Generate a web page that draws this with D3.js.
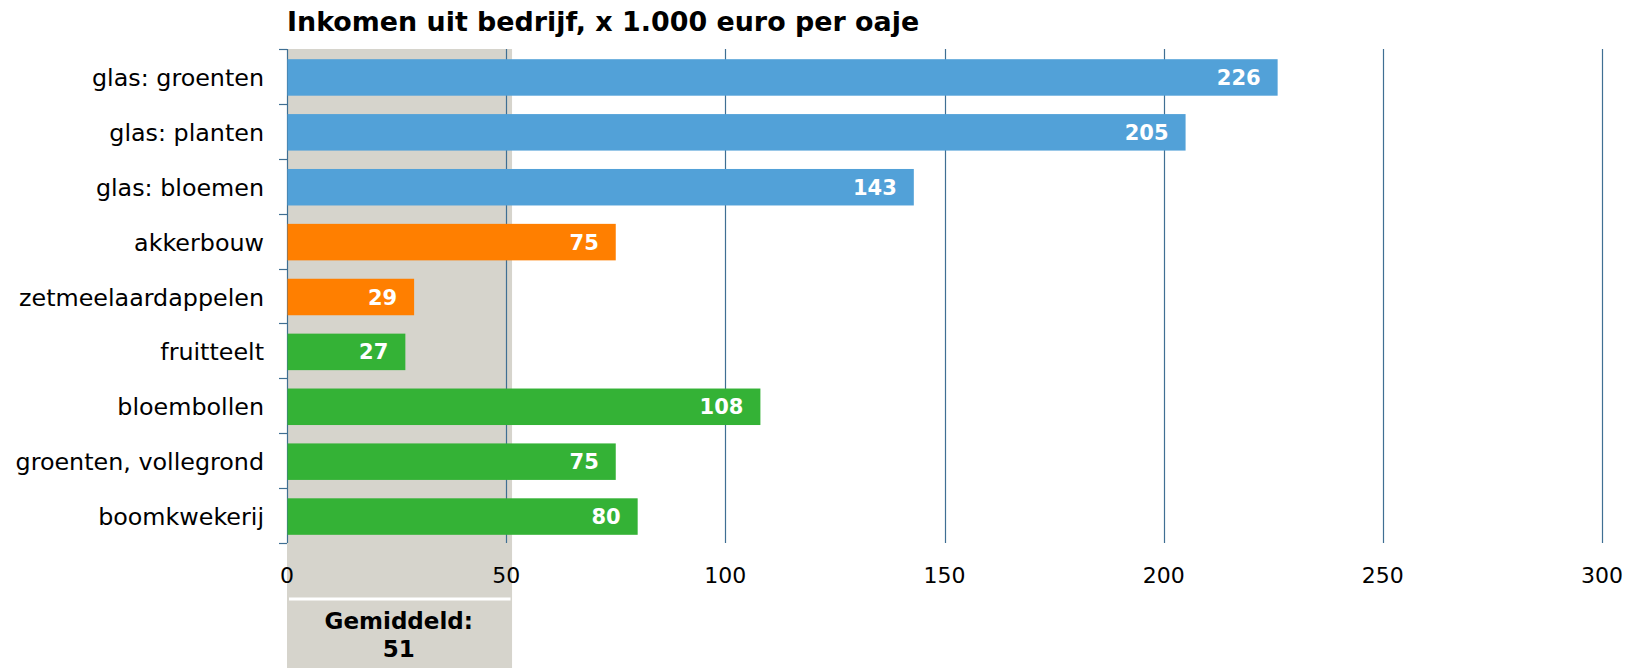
<!DOCTYPE html>
<meta charset="utf-8">
<style>
  body { margin: 0; background: #fff; }
  text { font-family: "DejaVu Sans", Verdana, sans-serif; }
</style>
<svg width="1636" height="668"></svg>
<script src="https://d3js.org/d3.v7.min.js"></script>
<script>

    // data
    var categories = ['glas: groenten', 'glas: planten', 'glas: bloemen', 'akkerbouw',
        'zetmeelaardappelen', 'fruitteelt', 'bloembollen', 'groenten, vollegrond', 'boomkwekerij']
    var values = [226, 205, 143, 75, 29, 27, 108, 75, 80]
    var groups = ['glas', 'glas', 'glas', 'akker', 'akker', 'open', 'open', 'open', 'open']
    var ticks = [0, 50, 100, 150, 200, 250, 300]
    var average = 51
    var title = 'Inkomen uit bedrijf, x 1.000 euro per oaje'

    var colors = { glas: '#52a1d8', akker: '#ff7f00', open: '#34b236' }
    var lineColor = '#3f6f93'

    var svg = d3.select('svg')
    var width = 1636, height = 668
    // note: "top" is taken by window.top, so plot* names
    var plotLeft = 287, plotRight = 1602, plotTop = 49, plotBottom = 543

    var data = categories.map(function (c, i) {
        return { name: c, value: values[i], group: groups[i] }
    })

    var x = d3.scaleLinear().domain([0, 300]).range([plotLeft, plotRight])
    var y = d3.scaleBand().domain(categories).range([plotTop + 1, plotBottom + 1])
        .paddingInner(0.335).paddingOuter(0.1675)

    // grey band for the average
    svg.append('rect')
        .attr('x', x(0)).attr('y', plotTop)
        .attr('width', x(average) - x(0) + 1.5).attr('height', height - plotTop)
        .attr('fill', '#d6d4cc')

    svg.append('line')
        .attr('x1', x(0) + 2).attr('x2', x(average))
        .attr('y1', 599).attr('y2', 599)
        .attr('stroke', '#fff').attr('stroke-width', 3)

    // vertical grid
    svg.append('g')
        .selectAll('line')
        .data(ticks)
        .enter().append('line')
        .attr('x1', function (d) { return Math.round(x(d)) + 0.5 })
        .attr('x2', function (d) { return Math.round(x(d)) + 0.5 })
        .attr('y1', plotTop).attr('y2', plotBottom)
        .attr('stroke', lineColor).attr('stroke-width', 1.2)

    // ticks on the category axis (band boundaries)
    var bounds = d3.range(categories.length + 1).map(function (i) {
        return plotTop + i * y.step()
    })
    svg.append('g')
        .selectAll('line')
        .data(bounds)
        .enter().append('line')
        .attr('x1', x(0) - 8).attr('x2', x(0))
        .attr('y1', function (d) { return Math.round(d) + 0.5 })
        .attr('y2', function (d) { return Math.round(d) + 0.5 })
        .attr('stroke', lineColor).attr('stroke-width', 1.2)

    // bars
    svg.append('g')
        .selectAll('rect')
        .data(data)
        .enter().append('rect')
        .attr('x', x(0) + 0.5)
        .attr('y', function (d) { return y(d.name) })
        .attr('width', function (d) { return x(d.value) - x(0) - 0.5 })
        .attr('height', y.bandwidth())
        .attr('fill', function (d) { return colors[d.group] })

    // values inside bars
    svg.append('g')
        .selectAll('text')
        .data(data)
        .enter().append('text')
        .attr('x', function (d) { return x(d.value) - 17 })
        .attr('y', function (d) { return y(d.name) + y.bandwidth() / 2 })
        .attr('dy', '0.36em')
        .attr('text-anchor', 'end')
        .attr('fill', '#fff')
        .attr('font-weight', 'bold')
        .attr('font-size', 21)
        .text(function (d) { return d.value })

    // category labels
    svg.append('g')
        .selectAll('text')
        .data(data)
        .enter().append('text')
        .attr('x', x(0) - 23)
        .attr('y', function (d) { return y(d.name) + y.bandwidth() / 2 })
        .attr('dy', '0.36em')
        .attr('text-anchor', 'end')
        .attr('fill', '#000')
        .attr('font-size', 23.8)
        .text(function (d) { return d.name })

    // x tick labels
    svg.append('g')
        .selectAll('text')
        .data(ticks)
        .enter().append('text')
        .attr('x', function (d) { return x(d) })
        .attr('y', 583)
        .attr('text-anchor', 'middle')
        .attr('fill', '#000')
        .attr('font-size', 22)
        .text(function (d) { return d })

    // title
    svg.append('text')
        .attr('x', plotLeft).attr('y', 31)
        .attr('font-weight', 'bold')
        .attr('font-size', 26.9)
        .attr('fill', '#000')
        .text(title)

    // average label
    var cx = (x(0) + x(average)) / 2
    svg.append('text')
        .attr('x', cx).attr('y', 629)
        .attr('text-anchor', 'middle')
        .attr('font-weight', 'bold').attr('font-size', 23)
        .text('Gemiddeld:')
    svg.append('text')
        .attr('x', cx).attr('y', 657)
        .attr('text-anchor', 'middle')
        .attr('font-weight', 'bold').attr('font-size', 23)
        .text(average)

</script>
